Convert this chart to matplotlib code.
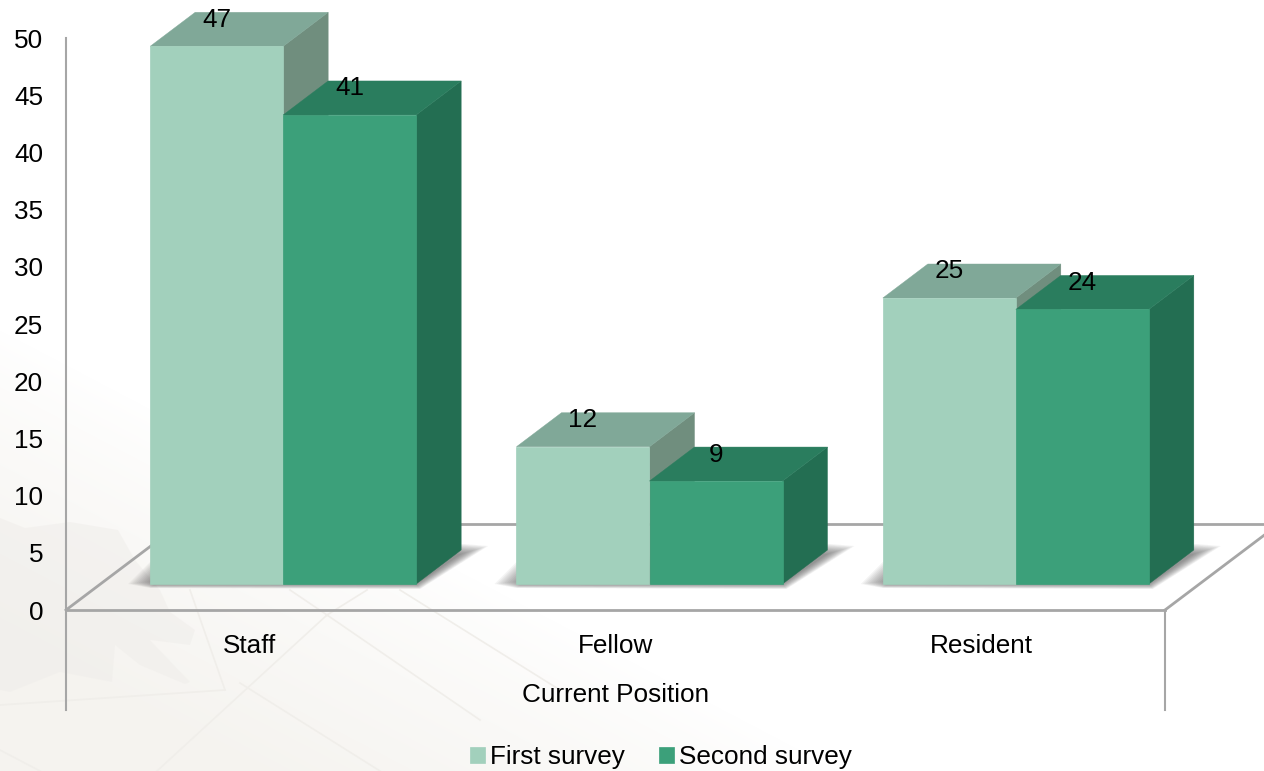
import numpy as np
import matplotlib
matplotlib.use('Agg')
import matplotlib.pyplot as plt
from matplotlib.patches import Polygon

plt.rcParams['font.family'] = ['Liberation Sans', 'DejaVu Sans']

# chart data
categories = ['Staff', 'Fellow', 'Resident']
first_survey = [47, 12, 25]
second_survey = [41, 9, 24]
y_ticks = list(range(0, 55, 5))

W, H = 1264, 771
AX_L, AX_R, AX_T, AX_B = 66, 1165, 38, 610
PX_X = (AX_R - AX_L) / 3.0      # pixels per category
PX_Y = (AX_B - AX_T) / 50.0     # pixels per value unit
FS = 18.8

# 3d look, expressed in data units
BAR_W = 133 / PX_X
BAR_SHIFT = 34 / PX_X           # bars sit a bit right of the category centre
FLOOR = 26 / PX_Y               # bar base is raised from the front edge
DX, DY = 45 / PX_X, 34 / PX_Y   # bar depth
WALL_DX, WALL_DY = 114 / PX_X, 86 / PX_Y
DROP = 100 / PX_Y

fig = plt.figure(figsize=(W / 100, H / 100), dpi=100)

# faint paper and leaf background
bg = fig.add_axes([0, 0, 1, 1], zorder=0)
xx, yy = np.meshgrid(np.arange(W), np.arange(H))
tint = np.clip(1.05 - xx / 800 - (H - yy) / 420, 0, 1) ** 0.8
img = np.ones((H, W, 3))
paper = np.array([0.962, 0.955, 0.94])
for c in range(3):
    img[:, :, c] = 1 - np.clip(tint * 1.3, 0, 1) * (1 - paper[c])
bg.imshow(img, extent=(0, W, H, 0), aspect='auto', zorder=0)
leaf = [(0, 518), (25, 528), (70, 522), (118, 530), (135, 560), (160, 590), (170, 612),
        (195, 630), (190, 645), (150, 640), (190, 682), (185, 684), (140, 665), (115, 645),
        (112, 682), (60, 672), (10, 692), (0, 690)]
bg.add_patch(Polygon(leaf, closed=True, fc='#efedea', ec='none', alpha=0.5, zorder=1))
creases = [[(190, 590), (225, 690)], [(225, 690), (0, 705)], [(157, 771), (327, 615), (367, 590)],
           [(240, 683), (380, 771)], [(327, 615), (480, 720)], [(290, 590), (327, 615)],
           [(0, 750), (40, 771)], [(400, 590), (560, 690)]]
for seg in creases:
    seg = np.array(seg)
    bg.plot(seg[:, 0], seg[:, 1], color='#f0eeea', lw=1.2, zorder=2)
bg.set_xlim(0, W)
bg.set_ylim(H, 0)
bg.axis('off')

ax = fig.add_axes([AX_L / W, (H - AX_B) / H, (AX_R - AX_L) / W, (AX_B - AX_T) / H], zorder=1)
ax.patch.set_alpha(0)
ax.set_xlim(-0.5, 2.5)
ax.set_ylim(0, 50)

# floor and walls
line_c = '#a6a6a6'
left, right = -0.5, 2.5
ax.plot([left, left], [-DROP, 50], color=line_c, lw=1.5, clip_on=False, zorder=1)
ax.plot([right, right], [-DROP, 0], color=line_c, lw=1.5, clip_on=False, zorder=1)
ax.plot([left, right], [0, 0], color=line_c, lw=2, clip_on=False, zorder=1)
ax.plot([left, left + WALL_DX], [0, WALL_DY], color=line_c, lw=2, clip_on=False, zorder=1)
ax.plot([right, right + WALL_DX], [0, WALL_DY], color=line_c, lw=2, clip_on=False, zorder=1)
ax.plot([left + WALL_DX, right + WALL_DX], [WALL_DY, WALL_DY], color=line_c, lw=2, clip_on=False, zorder=1)

x = np.arange(len(categories))
x0 = x + BAR_SHIFT

# soft shadows behind each pair of bars, offsets in pixels from the bar corners
outer = np.array([(-22, 0), (0, -4), (4, -5), (72, 38), (48, 40), (0, 22)], dtype=float)
inner = np.array([(5, 3), (5, 0), (0, 0), (45, 30), (40, 30), (5, 3)], dtype=float)
for xc in x0:
    xl, xr = xc - BAR_W, xc + BAR_W
    for t in np.linspace(0, 1, 14):
        off = outer * (1 - t) + inner * t
        pts = []
        for n, (ox, oy) in enumerate(off):
            base = xl if n in (0, 1, 5) else xr
            pts.append((base + ox / PX_X, FLOOR + oy / PX_Y))
        ax.add_patch(Polygon(pts, closed=True, fc='#4a4a4a', ec='none', alpha=0.06, zorder=2, clip_on=False))


def box(x_left, val, top_c, side_c, z):
    top = FLOOR + val
    x_right = x_left + BAR_W
    ax.add_patch(Polygon([(x_right, FLOOR), (x_right + DX, FLOOR + DY), (x_right + DX, top + DY), (x_right, top)],
                         closed=True, fc=side_c, ec=side_c, lw=0.3, zorder=z, clip_on=False))
    ax.add_patch(Polygon([(x_left, top), (x_left + DX, top + DY), (x_right + DX, top + DY), (x_right, top)],
                         closed=True, fc=top_c, ec=top_c, lw=0.3, zorder=z, clip_on=False))


for i in x:
    box(x0[i] - BAR_W, first_survey[i], '#80A898', '#708E7E', 3)
    box(x0[i], second_survey[i], '#2A7D5E', '#236E52', 4)

ax.bar(x0 - BAR_W / 2, first_survey, BAR_W, bottom=FLOOR, color='#A2D0BC', ec='#A2D0BC', lw=0.5,
       label='First survey', zorder=3.5, clip_on=False)
ax.bar(x0 + BAR_W / 2, second_survey, BAR_W, bottom=FLOOR, color='#3CA07A', ec='#3CA07A', lw=0.5,
       label='Second survey', zorder=4.5, clip_on=False)

for i in x:
    for xb, val in [(x0[i] - BAR_W / 2, first_survey[i]), (x0[i] + BAR_W / 2, second_survey[i])]:
        ax.text(xb, FLOOR + val + DY - 7.5 / PX_Y, str(val), ha='center', va='center',
                fontsize=FS, color='black', zorder=6, clip_on=False)

for s in ax.spines.values():
    s.set_visible(False)
ax.set_yticks(y_ticks)
ax.set_xticks(x)
ax.set_xticklabels(categories)
ax.tick_params(axis='both', length=0, labelsize=FS, labelcolor='black')
ax.tick_params(axis='y', pad=16.5)
ax.tick_params(axis='x', pad=17)
ax.set_xlabel('Current Position', fontsize=FS, labelpad=18.5)

fig.legend(loc='center', bbox_to_anchor=(661 / W, (H - 757) / H), ncol=2, frameon=False, fontsize=FS,
           handlelength=0.58, handleheight=0.58, handletextpad=0.2, columnspacing=1.3, borderpad=0)

fig.savefig('out.png', dpi=100)
